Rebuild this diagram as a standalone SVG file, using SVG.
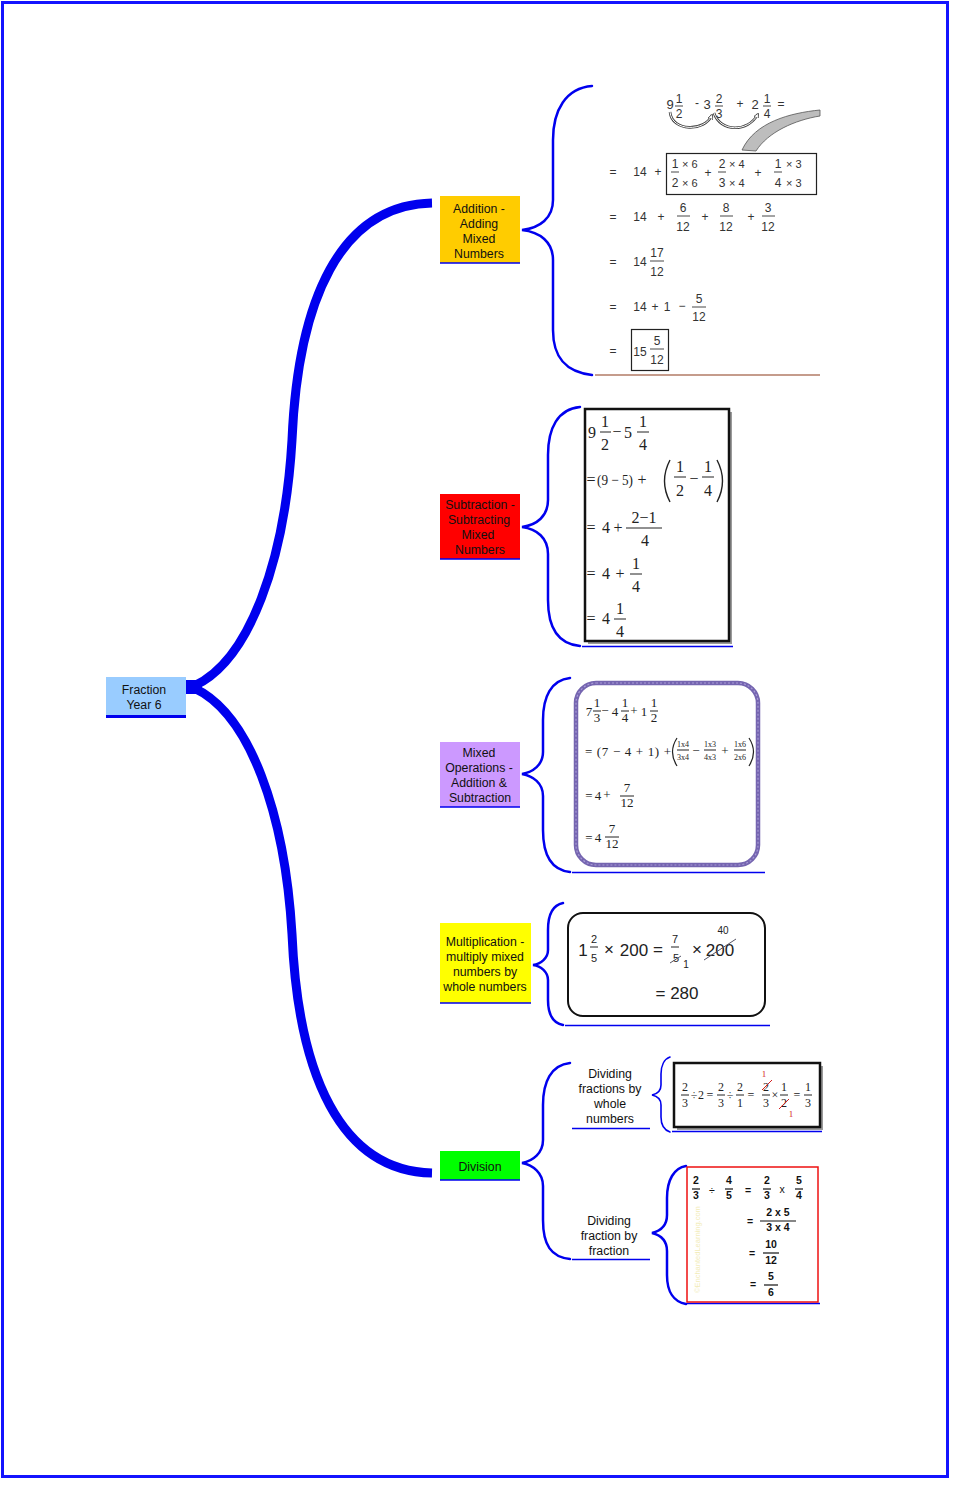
<svg xmlns="http://www.w3.org/2000/svg" width="970" height="1499" viewBox="0 0 970 1499">
<style>
.nt{font-family:"Liberation Sans",Arial,sans-serif;font-size:12.3px;fill:#111;text-anchor:middle}
.a{font-family:"Liberation Sans",Arial,sans-serif;font-size:12px;fill:#333;text-anchor:middle}
.as{font-family:"Liberation Sans",Arial,sans-serif;font-size:11px;fill:#333}
.s{font-family:"Liberation Serif","Times New Roman",serif;font-size:16px;fill:#222;text-anchor:middle}
.ss{font-family:"Liberation Serif","Times New Roman",serif;font-size:15px;fill:#222}
.mx{font-family:"Liberation Serif","Times New Roman",serif;font-size:13px;fill:#222;text-anchor:middle}
.mt{font-family:"Liberation Serif","Times New Roman",serif;font-size:8px;fill:#222;text-anchor:middle}
.mu{font-family:"Liberation Sans",Arial,sans-serif;font-size:17px;fill:#222;text-anchor:middle}
.mf{font-family:"Liberation Sans",Arial,sans-serif;font-size:11px;fill:#222;text-anchor:middle}
.dw{font-family:"Liberation Serif","Times New Roman",serif;font-size:12px;fill:#222;text-anchor:middle}
.red{fill:#d42020}
.df{font-family:"Liberation Sans",Arial,sans-serif;font-size:10.5px;font-weight:bold;fill:#111;text-anchor:middle}
.fl{stroke:#333;stroke-width:0.9}
.fs{stroke:#222;stroke-width:1}
.brace{fill:none;stroke:#0000ee;stroke-width:2.5;stroke-linecap:round}
.thick{fill:none;stroke:#0000ee;stroke-width:9}
.ul{stroke:#0000ee;stroke-width:1.5}
</style>
<defs>
<marker id="ah" viewBox="0 0 10 10" refX="8" refY="5" markerWidth="5" markerHeight="5" orient="auto">
<path d="M0 0 L10 5 L0 10 Z" fill="#fff" stroke="#444" stroke-width="1.5"/>
</marker>
</defs>
<rect x="0" y="0" width="970" height="1499" fill="#fff"/>
<rect x="2.5" y="2.5" width="945" height="1474" fill="none" stroke="#1414ff" stroke-width="3"/>

<g id="connectors">
<rect x="186" y="680" width="16" height="14" fill="#0000ee"/>
<path class="thick" d="M 194 686 C 250 660, 285 560, 292 440 C 298 300, 340 205, 432 203"/>
<path class="thick" d="M 194 688 C 250 714, 285 814, 292 934 C 298 1074, 340 1171, 432 1173"/>
<path class="brace" d="M 592 86 C 566 88, 553 110, 553 140 L 553 200 C 553 218, 540 228, 522 230 C 540 232, 553 242, 553 260 L 553 330 C 553 358, 566 372, 592 375"/>
<path class="brace" d="M 580 407 C 558 409, 548 428, 548 455 L 548 500 C 548 516, 537 525, 522 527 C 537 529, 548 538, 548 554 L 548 600 C 548 628, 558 644, 580 646"/>
<path class="brace" d="M 570 678 C 551 680, 543 697, 543 720 L 543 752 C 543 765, 533 772, 522 774 C 533 776, 543 783, 543 796 L 543 830 C 543 855, 551 870, 570 872"/>
<path class="brace" d="M 563 903 C 553 905, 548 915, 548 930 L 548 950 C 548 958, 541 964, 533 965 C 541 966, 548 972, 548 980 L 548 1000 C 548 1015, 553 1023, 563 1025"/>
<path class="brace" d="M 570 1063 C 551 1065, 543 1082, 543 1105 L 543 1140 C 543 1153, 533 1161, 522 1163 C 533 1165, 543 1173, 543 1186 L 543 1220 C 543 1245, 551 1257, 570 1259"/>
<path class="brace" style="stroke-width:1.6" d="M 670 1057 C 664 1059, 661 1066, 661 1074 L 661 1085 C 661 1091, 657 1094, 652 1095 C 657 1096, 661 1099, 661 1105 L 661 1117 C 661 1125, 664 1130, 670 1132"/>
<path class="brace" d="M 686 1166 C 674 1168, 667 1180, 667 1198 L 667 1215 C 667 1226, 660 1231, 652 1233 C 660 1235, 667 1240, 667 1251 L 667 1275 C 667 1292, 674 1302, 686 1304"/>
<line x1="595" y1="375" x2="820" y2="375" stroke="#8b3a1a" stroke-width="1.2"/>
<line class="ul" x1="582" y1="646.5" x2="733" y2="646.5"/>
<line class="ul" x1="572" y1="872.5" x2="765" y2="872.5"/>
<line class="ul" x1="565" y1="1025.5" x2="770" y2="1025.5"/>
<line class="ul" x1="672" y1="1131.5" x2="822" y2="1131.5"/>
<line class="ul" x1="687" y1="1303.5" x2="820" y2="1303.5"/>
</g>

<g id="root">
<rect x="106" y="677" width="80" height="39" fill="#99ccff"/>
<line x1="106" y1="716.5" x2="186" y2="716.5" stroke="#0000ee" stroke-width="3"/>
<text class="nt" x="144" y="694">Fraction</text>
<text class="nt" x="144" y="709">Year 6</text>
</g>

<g id="n-addition">
<rect x="440" y="196" width="80" height="67" fill="#ffcc00"/>
<line x1="440" y1="263" x2="520" y2="263" stroke="#0000ee" stroke-width="1.5"/>
<text class="nt" x="479" y="213">Addition -</text>
<text class="nt" x="479" y="228">Adding</text>
<text class="nt" x="479" y="243">Mixed</text>
<text class="nt" x="479" y="258">Numbers</text>
</g>

<g id="n-subtraction">
<rect x="440" y="494" width="80" height="65" fill="#ff0000"/>
<line x1="440" y1="559" x2="520" y2="559" stroke="#0000ee" stroke-width="1.5"/>
<text class="nt" x="480" y="509">Subtraction -</text>
<text class="nt" x="479" y="524">Subtracting</text>
<text class="nt" x="478" y="539">Mixed</text>
<text class="nt" x="480" y="554">Numbers</text>
</g>

<g id="n-mixed">
<rect x="440" y="742" width="80" height="65" fill="#cc99ff"/>
<line x1="440" y1="807" x2="520" y2="807" stroke="#0000ee" stroke-width="1.5"/>
<text class="nt" x="479" y="757">Mixed</text>
<text class="nt" x="479" y="772">Operations -</text>
<text class="nt" x="479" y="787">Addition &amp;</text>
<text class="nt" x="480" y="802">Subtraction</text>
</g>

<g id="n-multiplication">
<rect x="440" y="923" width="91" height="80" fill="#ffff00"/>
<line x1="440" y1="1003" x2="531" y2="1003" stroke="#0000ee" stroke-width="1.5"/>
<text class="nt" x="485" y="946">Multiplication -</text>
<text class="nt" x="485" y="961">multiply mixed</text>
<text class="nt" x="485" y="976">numbers by</text>
<text class="nt" x="485" y="991">whole numbers</text>
</g>

<g id="n-division">
<rect x="440" y="1151" width="80" height="29" fill="#00ff00"/>
<line x1="440" y1="1180" x2="520" y2="1180" stroke="#0000ee" stroke-width="1.5"/>
<text class="nt" x="480" y="1171">Division</text>
</g>

<g id="n-div-whole">
<text class="nt" x="610" y="1078">Dividing</text>
<text class="nt" x="610" y="1093">fractions by</text>
<text class="nt" x="610" y="1108">whole</text>
<text class="nt" x="610" y="1123">numbers</text>
<line class="ul" x1="572" y1="1128.5" x2="650" y2="1128.5"/>
</g>

<g id="n-div-fraction">
<text class="nt" x="609" y="1225">Dividing</text>
<text class="nt" x="609" y="1240">fraction by</text>
<text class="nt" x="609" y="1255">fraction</text>
<line class="ul" x1="572" y1="1259.5" x2="650" y2="1259.5"/>
</g>

<g id="c-addition">
<text class="a" x="670" y="109" style="font-size:13px">9</text>
<text class="a" x="679" y="103">1</text><line class="fl" x1="675" y1="106" x2="683" y2="106"/><text class="a" x="679" y="118">2</text>
<text class="a" x="697" y="107">-</text>
<text class="a" x="707" y="109" style="font-size:13px">3</text>
<text class="a" x="719" y="103">2</text><line class="fl" x1="715" y1="106" x2="723" y2="106"/><text class="a" x="719" y="118">3</text>
<text class="a" x="740" y="108">+</text>
<text class="a" x="755" y="109" style="font-size:13px">2</text>
<text class="a" x="767" y="103">1</text><line class="fl" x1="763" y1="106" x2="771" y2="106"/><text class="a" x="767" y="118">4</text>
<text class="a" x="781" y="108">=</text>
<path d="M 670 112 C 672 132, 705 132, 712 115" fill="none" stroke="#444" stroke-width="2.6"/>
<path d="M 670 112 C 672 132, 705 132, 712 115" fill="none" stroke="#fff" stroke-width="1" marker-end="url(#ah)"/>
<path d="M 714 113 C 720 132, 748 133, 758 114" fill="none" stroke="#444" stroke-width="2.6"/>
<path d="M 714 113 C 720 132, 748 133, 758 114" fill="none" stroke="#fff" stroke-width="1" marker-end="url(#ah)"/>
<path d="M 820 110 C 790 113, 755 122, 742 150 L 756 151 C 768 132, 795 120, 820 116 Z" fill="#bdbdbd" stroke="#555" stroke-width="0.8"/>

<text class="a" x="613" y="176">=</text>
<text class="a" x="640" y="176">14</text>
<text class="a" x="658" y="176">+</text>
<rect x="666.5" y="153.5" width="150" height="41" fill="none" stroke="#222" stroke-width="1.2"/>
<text class="a" x="675" y="168">1</text><text class="as" x="682" y="168">× 6</text>
<line class="fl" x1="671" y1="172" x2="679" y2="172"/>
<text class="a" x="675" y="187">2</text><text class="as" x="682" y="187">× 6</text>
<text class="a" x="708" y="177">+</text>
<text class="a" x="722" y="168">2</text><text class="as" x="729" y="168">× 4</text>
<line class="fl" x1="718" y1="172" x2="726" y2="172"/>
<text class="a" x="722" y="187">3</text><text class="as" x="729" y="187">× 4</text>
<text class="a" x="758" y="177">+</text>
<text class="a" x="778" y="168">1</text><text class="as" x="786" y="168">× 3</text>
<line class="fl" x1="774" y1="172" x2="782" y2="172"/>
<text class="a" x="778" y="187">4</text><text class="as" x="786" y="187">× 3</text>

<text class="a" x="613" y="221">=</text>
<text class="a" x="640" y="221">14</text>
<text class="a" x="661" y="221">+</text>
<text class="a" x="683" y="212">6</text><line class="fl" x1="677" y1="216" x2="690" y2="216"/><text class="a" x="683" y="231">12</text>
<text class="a" x="705" y="221">+</text>
<text class="a" x="726" y="212">8</text><line class="fl" x1="720" y1="216" x2="733" y2="216"/><text class="a" x="726" y="231">12</text>
<text class="a" x="751" y="221">+</text>
<text class="a" x="768" y="212">3</text><line class="fl" x1="762" y1="216" x2="775" y2="216"/><text class="a" x="768" y="231">12</text>

<text class="a" x="613" y="266">=</text>
<text class="a" x="640" y="266">14</text>
<text class="a" x="657" y="257">17</text><line class="fl" x1="650" y1="261" x2="664" y2="261"/><text class="a" x="657" y="276">12</text>

<text class="a" x="613" y="311">=</text>
<text class="a" x="640" y="311">14</text>
<text class="a" x="655" y="311">+</text>
<text class="a" x="667" y="311">1</text>
<text class="a" x="682" y="310">−</text>
<text class="a" x="699" y="303">5</text><line class="fl" x1="692" y1="307" x2="706" y2="307"/><text class="a" x="699" y="321">12</text>

<text class="a" x="613" y="355">=</text>
<rect x="631.5" y="329.5" width="37" height="41" fill="none" stroke="#222" stroke-width="1.2"/>
<text class="a" x="640" y="356">15</text>
<text class="a" x="657" y="345">5</text><line class="fl" x1="650" y1="349" x2="664" y2="349"/><text class="a" x="657" y="364">12</text>
</g>

<g id="c-subtraction">
<rect x="588" y="412" width="144" height="232" fill="#9a9a9a"/>
<rect x="585" y="409" width="144" height="232" fill="#fff" stroke="#111" stroke-width="2.5"/>
<text class="s" x="592" y="438">9</text>
<text class="s" x="605" y="427">1</text><line class="fs" x1="600" y1="432" x2="611" y2="432"/><text class="s" x="605" y="450">2</text>
<text class="s" x="617" y="437">−</text>
<text class="s" x="628" y="438">5</text>
<text class="s" x="643" y="427">1</text><line class="fs" x1="637" y1="432" x2="649" y2="432"/><text class="s" x="643" y="450">4</text>

<text class="s" x="591" y="485">=</text>
<text class="ss" x="597" y="485" textLength="36" lengthAdjust="spacingAndGlyphs">(9 − 5)</text>
<text class="s" x="642" y="485">+</text>
<path d="M 670 460 Q 659 481, 670 502" fill="none" stroke="#222" stroke-width="1.4"/>
<text class="s" x="680" y="472">1</text><line class="fs" x1="674" y1="477" x2="686" y2="477"/><text class="s" x="680" y="496">2</text>
<text class="s" x="694" y="484">−</text>
<text class="s" x="708" y="472">1</text><line class="fs" x1="702" y1="477" x2="714" y2="477"/><text class="s" x="708" y="496">4</text>
<path d="M 717 460 Q 728 481, 717 502" fill="none" stroke="#222" stroke-width="1.4"/>

<text class="s" x="591" y="533">=</text>
<text class="s" x="606" y="533">4</text>
<text class="s" x="618" y="533">+</text>
<text class="s" x="644" y="523">2−1</text><line class="fs" x1="626" y1="528" x2="662" y2="528"/><text class="s" x="645" y="546">4</text>

<text class="s" x="591" y="579">=</text>
<text class="s" x="606" y="579">4</text>
<text class="s" x="620" y="579">+</text>
<text class="s" x="636" y="569">1</text><line class="fs" x1="630" y1="574" x2="642" y2="574"/><text class="s" x="636" y="592">4</text>

<text class="s" x="591" y="624">=</text>
<text class="s" x="606" y="624">4</text>
<text class="s" x="620" y="614">1</text><line class="fs" x1="614" y1="619" x2="626" y2="619"/><text class="s" x="620" y="637">4</text>
</g>

<g id="c-mixed">
<rect x="576" y="683" width="182" height="182" rx="20" fill="#fff" stroke="#7565b0" stroke-width="4.5"/>
<rect x="576" y="683" width="182" height="182" rx="20" fill="none" stroke="#a79ad6" stroke-width="1.2" stroke-dasharray="2 2"/>
<text class="mx" x="589" y="716">7</text>
<text class="mx" x="597" y="707">1</text><line class="fs" x1="593" y1="711" x2="601" y2="711"/><text class="mx" x="597" y="722">3</text>
<text class="mx" x="605" y="715">−</text>
<text class="mx" x="615" y="716">4</text>
<text class="mx" x="625" y="707">1</text><line class="fs" x1="621" y1="711" x2="629" y2="711"/><text class="mx" x="625" y="722">4</text>
<text class="mx" x="634" y="715">+</text>
<text class="mx" x="644" y="716">1</text>
<text class="mx" x="654" y="707">1</text><line class="fs" x1="650" y1="711" x2="658" y2="711"/><text class="mx" x="654" y="722">2</text>

<text class="mx" x="628" y="756" textLength="86" lengthAdjust="spacing">= (7 − 4 + 1) +</text>
<path d="M 677 738 Q 668 752, 677 766" fill="none" stroke="#222" stroke-width="1.2"/>
<text class="mt" x="683" y="747">1x4</text><line class="fs" x1="677" y1="750" x2="689" y2="750"/><text class="mt" x="683" y="760">3x4</text>
<text class="mx" x="696" y="755">−</text>
<text class="mt" x="710" y="747">1x3</text><line class="fs" x1="704" y1="750" x2="716" y2="750"/><text class="mt" x="710" y="760">4x3</text>
<text class="mx" x="725" y="755">+</text>
<text class="mt" x="740" y="747">1x6</text><line class="fs" x1="734" y1="750" x2="746" y2="750"/><text class="mt" x="740" y="760">2x6</text>
<path d="M 749 738 Q 758 752, 749 766" fill="none" stroke="#222" stroke-width="1.2"/>

<text class="mx" x="589" y="800">=</text>
<text class="mx" x="598" y="800">4</text>
<text class="mx" x="607" y="799">+</text>
<text class="mx" x="627" y="792">7</text><line class="fs" x1="620" y1="796" x2="634" y2="796"/><text class="mx" x="627" y="807">12</text>

<text class="mx" x="589" y="842">=</text>
<text class="mx" x="598" y="842">4</text>
<text class="mx" x="612" y="833">7</text><line class="fs" x1="605" y1="837" x2="619" y2="837"/><text class="mx" x="612" y="848">12</text>
</g>

<g id="c-multiplication">
<rect x="568" y="913" width="197" height="103" rx="15" fill="#fff" stroke="#111" stroke-width="2"/>
<text class="mu" x="583" y="956">1</text>
<text class="mf" x="594" y="943">2</text><line class="fs" x1="590" y1="947" x2="598" y2="947"/><text class="mf" x="594" y="962">5</text>
<text class="mu" x="609" y="955">×</text>
<text class="mu" x="634" y="956">200</text>
<text class="mu" x="658" y="955">=</text>
<text class="mf" x="675" y="943">7</text><line class="fs" x1="671" y1="947" x2="679" y2="947"/><text class="mf" x="676" y="962">5</text>
<line x1="670" y1="963" x2="681" y2="956" stroke="#556" stroke-width="1"/>
<text class="mf" x="686" y="968" style="font-size:10px">1</text>
<text class="mu" x="697" y="955">×</text>
<text class="mu" x="720" y="956">200</text>
<line x1="704" y1="960" x2="736" y2="939" stroke="#556" stroke-width="1"/>
<text class="mf" x="723" y="934" style="font-size:10px">40</text>
<text class="mu" x="677" y="999">= 280</text>
</g>

<g id="c-div-whole">
<rect x="677" y="1066" width="146" height="64" fill="#9a9a9a"/>
<rect x="674" y="1063" width="146" height="64" fill="#fff" stroke="#111" stroke-width="2.5"/>
<text class="dw" x="685" y="1091">2</text><line class="fs" x1="681" y1="1095" x2="689" y2="1095"/><text class="dw" x="685" y="1107">3</text>
<text class="dw" x="694" y="1099">÷</text>
<text class="dw" x="701" y="1099">2</text>
<text class="dw" x="710" y="1099">=</text>
<text class="dw" x="721" y="1091">2</text><line class="fs" x1="717" y1="1095" x2="725" y2="1095"/><text class="dw" x="721" y="1107">3</text>
<text class="dw" x="730" y="1099">÷</text>
<text class="dw" x="740" y="1091">2</text><line class="fs" x1="736" y1="1095" x2="744" y2="1095"/><text class="dw" x="740" y="1107">1</text>
<text class="dw" x="751" y="1099">=</text>
<text class="dw red" x="764" y="1077" style="font-size:9px">1</text>
<text class="dw" x="766" y="1091">2</text><line class="fs" x1="762" y1="1095" x2="770" y2="1095"/><text class="dw" x="766" y="1107">3</text>
<line x1="762" y1="1090" x2="772" y2="1080" stroke="#d42020" stroke-width="1"/>
<text class="dw" x="775" y="1099">×</text>
<text class="dw" x="784" y="1091">1</text><line class="fs" x1="780" y1="1095" x2="788" y2="1095"/><text class="dw" x="784" y="1107">2</text>
<line x1="779" y1="1109" x2="789" y2="1099" stroke="#d42020" stroke-width="1"/>
<text class="dw red" x="791" y="1117" style="font-size:9px">1</text>
<text class="dw" x="797" y="1099">=</text>
<text class="dw" x="808" y="1091">1</text><line class="fs" x1="804" y1="1095" x2="812" y2="1095"/><text class="dw" x="808" y="1107">3</text>
</g>

<g id="c-div-fraction">
<rect x="687" y="1167" width="131" height="135" fill="#fff" stroke="#ee1111" stroke-width="1.5"/>
<text x="700" y="1293" transform="rotate(-90 700 1293)" style="font-family:'Liberation Sans',Arial,sans-serif;font-size:7.5px;fill:#f2ecb8">©EnchantedLearning.com</text>
<text class="df" x="696" y="1184">2</text><line x1="692" y1="1189" x2="700" y2="1189" stroke="#111" stroke-width="1.2"/><text class="df" x="696" y="1199">3</text>
<text class="df" x="712" y="1194" style="font-weight:normal">÷</text>
<text class="df" x="729" y="1184">4</text><line x1="725" y1="1189" x2="733" y2="1189" stroke="#111" stroke-width="1.2"/><text class="df" x="729" y="1199">5</text>
<text class="df" x="748" y="1194">=</text>
<text class="df" x="767" y="1184">2</text><line x1="763" y1="1189" x2="771" y2="1189" stroke="#111" stroke-width="1.2"/><text class="df" x="767" y="1199">3</text>
<text class="df" x="782" y="1193" style="font-weight:normal">x</text>
<text class="df" x="799" y="1184">5</text><line x1="795" y1="1189" x2="803" y2="1189" stroke="#111" stroke-width="1.2"/><text class="df" x="799" y="1199">4</text>

<text class="df" x="750" y="1225">=</text>
<text class="df" x="778" y="1216">2 x 5</text><line x1="760" y1="1221" x2="796" y2="1221" stroke="#111" stroke-width="1.2"/><text class="df" x="778" y="1231">3 x 4</text>

<text class="df" x="752" y="1257">=</text>
<text class="df" x="771" y="1248">10</text><line x1="763" y1="1253" x2="779" y2="1253" stroke="#111" stroke-width="1.2"/><text class="df" x="771" y="1264">12</text>

<text class="df" x="753" y="1288">=</text>
<text class="df" x="771" y="1280">5</text><line x1="764" y1="1285" x2="778" y2="1285" stroke="#111" stroke-width="1.2"/><text class="df" x="771" y="1296">6</text>
</g>
</svg>
